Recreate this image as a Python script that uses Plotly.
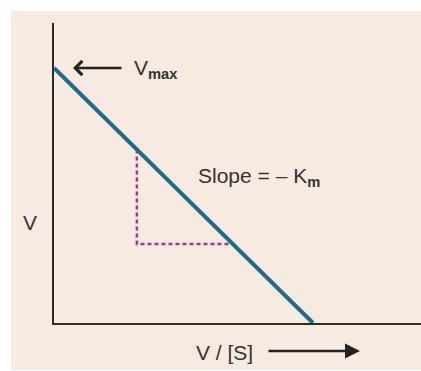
import plotly.graph_objects as go

# ---- data (Eadie-Hofstee plot, arbitrary units) ----
vmax = 10.0
km = 1.0
line_x = [0.0, vmax / km]          # V/[S]
line_y = [vmax, 0.0]               # V
tri_x = [3.2, 3.2, 6.9]            # slope triangle
tri_y = [6.8, 3.1, 3.1]
x_range = [0, 14.17]
y_range = [0, 11.76]

W, H = 421, 371
BG = "#F6EAE1"
TXT = "#333333"

def px(x):
    return x / W

def py(y):
    return 1 - y / H

fig = go.Figure()
fig.add_trace(go.Scatter(x=tri_x, y=tri_y, mode="lines",
                         line=dict(color="#A8338F", width=2.5, dash="4px,3px"),
                         hoverinfo="skip", showlegend=False))
fig.add_trace(go.Scatter(x=line_x, y=line_y, mode="lines",
                         line=dict(color="#1D6C8C", width=4),
                         hoverinfo="skip", showlegend=False))

fig.update_layout(
    width=W, height=H,
    margin=dict(l=0, r=0, t=0, b=0),
    paper_bgcolor="white",
    plot_bgcolor=BG,
    showlegend=False,
    font=dict(family="Liberation Sans, Arial, sans-serif", color=TXT, size=21),
    xaxis=dict(domain=[54 / W, 1], range=x_range, showline=True, linewidth=2,
               linecolor="#2B2B2B", showgrid=False, zeroline=False,
               showticklabels=False, ticks="", fixedrange=True),
    yaxis=dict(domain=[(H - 323) / H, (H - 23) / H], range=y_range, showline=True,
               linewidth=2, linecolor="#2B2B2B", showgrid=False, zeroline=False,
               showticklabels=False, ticks="", fixedrange=True),
    shapes=[dict(type="rect", xref="paper", yref="paper", x0=px(11), x1=1,
                 y0=py(370), y1=py(11), fillcolor=BG, line=dict(width=0),
                 layer="below")],
)

# arrows
fig.add_annotation(xref="paper", yref="paper", x=px(73), y=py(68), ax=50, ay=0,
                   text="", showarrow=True, arrowhead=4, arrowsize=1.1,
                   arrowwidth=2.5, arrowcolor="#222222")
fig.add_annotation(xref="paper", yref="paper", x=px(360), y=py(351), ax=-93, ay=0,
                   text="", showarrow=True, arrowhead=2, arrowsize=1.2,
                   arrowwidth=2.5, arrowcolor="#222222")

# labels
fig.add_annotation(xref="paper", yref="paper", x=px(132), y=py(69),
                   text="V<sub><b>max</b></sub>", showarrow=False,
                   xanchor="left", yanchor="middle")
fig.add_annotation(xref="paper", yref="paper", x=px(196), y=py(177),
                   text="Slope = – K<sub><b>m</b></sub>", showarrow=False,
                   xanchor="left", yanchor="middle")
fig.add_annotation(xref="paper", yref="paper", x=px(30), y=py(222),
                   text="V", showarrow=False, xanchor="center", yanchor="middle")
fig.add_annotation(xref="paper", yref="paper", x=px(194), y=py(352),
                   text="V / [S]", showarrow=False, xanchor="left", yanchor="middle")

fig.write_html("out.html", config={"displayModeBar": False},
               post_script="document.body.style.margin='0';"
                           "document.body.style.overflow='hidden';")
